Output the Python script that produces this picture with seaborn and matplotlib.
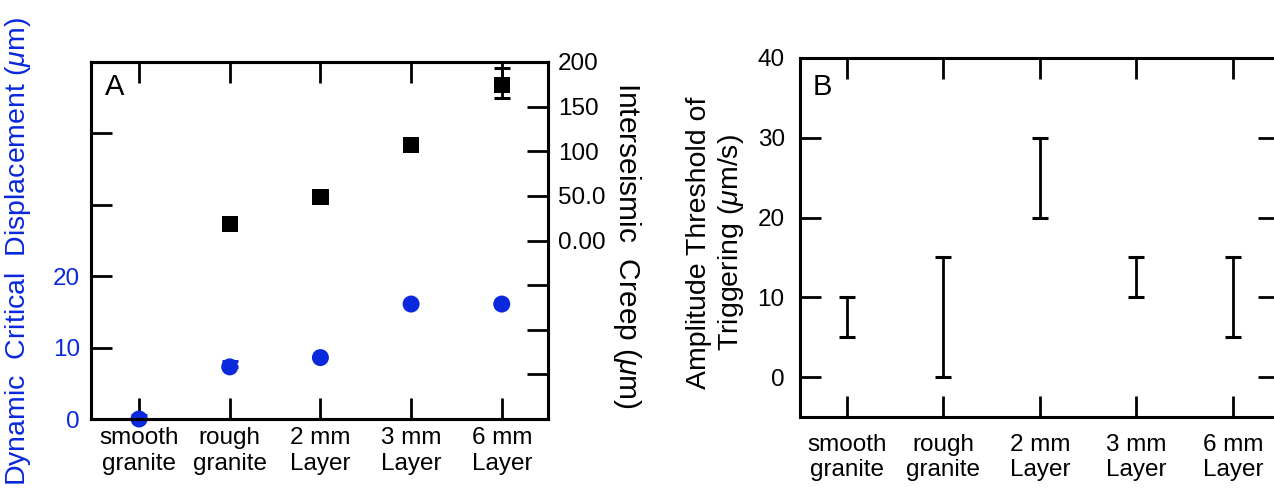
import numpy as np
import pandas as pd
import matplotlib
matplotlib.use("Agg")
import matplotlib.pyplot as plt
import seaborn as sns

# data
categories = ["smooth\ngranite", "rough\ngranite", "2 mm\nLayer", "3 mm\nLayer", "6 mm\nLayer"]
positions = [1, 2, 3, 4, 5]

# panel A, left axis (blue circles), only the upper error is visible
crit_disp = [0.0, 7.3, 8.6, 16.1, 16.1]
crit_disp_err = [0.6, 0.85, 0.0, 0.0, 0.0]

# panel A, right axis (black squares)
creep = [np.nan, 18.5, 49.0, 107.0, 174.0]
creep_err_low = [0, 0, 0, 0, 14]
creep_err_high = [0, 0, 0, 0, 19]

left_ticks = [0, 10, 20, 30, 40, 50]
left_ticklabels = ["0", "10", "20", "", "", ""]
right_ticks = [-200, -150, -100, -50, 0, 50, 100, 150, 200]
right_ticklabels = ["", "", "", "", "0.00", "50.0", "100", "150", "200"]

# panel B, triggering threshold ranges
trig_low = [5, 0, 20, 10, 5]
trig_high = [10, 15, 30, 15, 15]
b_ticks = [0, 10, 20, 30, 40]

BLUE = "#0a28dc"
W, H = 1274, 492

sns.set_style("ticks")
plt.rcParams["font.family"] = ["Liberation Sans", "DejaVu Sans"]
plt.rcParams["mathtext.fontset"] = "custom"
plt.rcParams["mathtext.rm"] = "Liberation Sans"
plt.rcParams["mathtext.it"] = "Liberation Sans:italic"
for key in ("text.color", "axes.labelcolor", "xtick.color", "ytick.color"):
    plt.rcParams[key] = "black"

fig = plt.figure(figsize=(W / 100, H / 100), dpi=100)
axA = fig.add_axes([91 / W, 73 / H, 457 / W, 357 / H])
axA2 = axA.twinx()
axB = fig.add_axes([800 / W, 75 / H, 479 / W, 359 / H])

df = pd.DataFrame({"pos": positions, "disp": crit_disp, "creep": creep})

# ---- panel A ----
sel = [i for i, e in enumerate(crit_disp_err) if e > 0]
axA.errorbar([positions[i] for i in sel], [crit_disp[i] for i in sel],
             yerr=[[0] * len(sel), [crit_disp_err[i] for i in sel]], fmt="none",
             ecolor=BLUE, elinewidth=2, capsize=6, capthick=2.2, zorder=3)
sns.scatterplot(data=df, x="pos", y="disp", ax=axA, color=BLUE, marker="o",
                s=150, edgecolor="none", zorder=4, clip_on=False)

sel = [i for i in range(5) if creep_err_high[i] > 0]
axA2.errorbar([positions[i] for i in sel], [creep[i] for i in sel],
              yerr=[[creep_err_low[i] for i in sel], [creep_err_high[i] for i in sel]],
              fmt="none", ecolor="black", elinewidth=2, capsize=6, capthick=2.2, zorder=3)
sns.scatterplot(data=df, x="pos", y="creep", ax=axA2, color="black", marker="s",
                s=140, edgecolor="none", zorder=4)

axA.set_xlim(0.47, 5.51)
axA.set_ylim(0, 50)
axA2.set_ylim(-200, 200)
axA.set_xticks(positions)
axA.set_xticklabels(categories, linespacing=1.2)
axA.set_yticks(left_ticks)
axA.set_yticklabels(left_ticklabels)
axA2.set_yticks(right_ticks)
axA2.set_yticklabels(right_ticklabels)
for a in (axA, axA2):
    a.set_xlabel("")
    a.set_ylabel("")

axA.tick_params(direction="in", length=15, width=2, labelsize=17.5)
axA.tick_params(axis="x", top=True, bottom=True, pad=6)
axA.tick_params(axis="y", left=True, right=False, labelcolor=BLUE, pad=8)
axA2.tick_params(axis="y", direction="in", length=15, width=2, labelsize=17.5,
                 right=True, pad=7)
axA.text(0.031, 0.969, "A", transform=axA.transAxes, fontsize=21, ha="left", va="top")

# ---- panel B ----
mid = [(lo + hi) / 2 for lo, hi in zip(trig_low, trig_high)]
half = [(hi - lo) / 2 for lo, hi in zip(trig_low, trig_high)]
axB.errorbar(positions, mid, yerr=half, fmt="none", ecolor="black",
             elinewidth=2, capsize=6, capthick=2.2)
axB.set_xlim(0.513, 5.477)
axB.set_ylim(-5, 40)
axB.set_xticks(positions)
axB.set_xticklabels(categories, linespacing=1.2)
axB.set_yticks(b_ticks)
axB.tick_params(direction="in", length=15, width=2, labelsize=17.5)
axB.tick_params(axis="x", top=True, bottom=True, pad=12)
axB.tick_params(axis="y", left=True, right=True, pad=11)
axB.text(0.027, 0.958, "B", transform=axB.transAxes, fontsize=21, ha="left", va="top")

for a in (axA, axA2, axB):
    for sp in a.spines.values():
        sp.set_visible(True)
        sp.set_linewidth(2.2)
        sp.set_color("black")

# axis titles
fig.text(18 / W, 1 - 252 / H, "Dynamic  Critical  Displacement ($\\mu$m)", rotation=90,
         color=BLUE, fontsize=20.5, ha="center", va="center")
fig.text(627 / W, 1 - 245 / H, "Interseismic  Creep ($\\mu$m)", rotation=270,
         fontsize=21.5, ha="center", va="center")
fig.text(716 / W, 1 - 243 / H, "Amplitude Threshold of\nTriggering ($\\mu$m/s)", rotation=90,
         fontsize=20.5, ha="center", va="center", multialignment="center", linespacing=1.2)

fig.savefig("out.png", dpi=100)
